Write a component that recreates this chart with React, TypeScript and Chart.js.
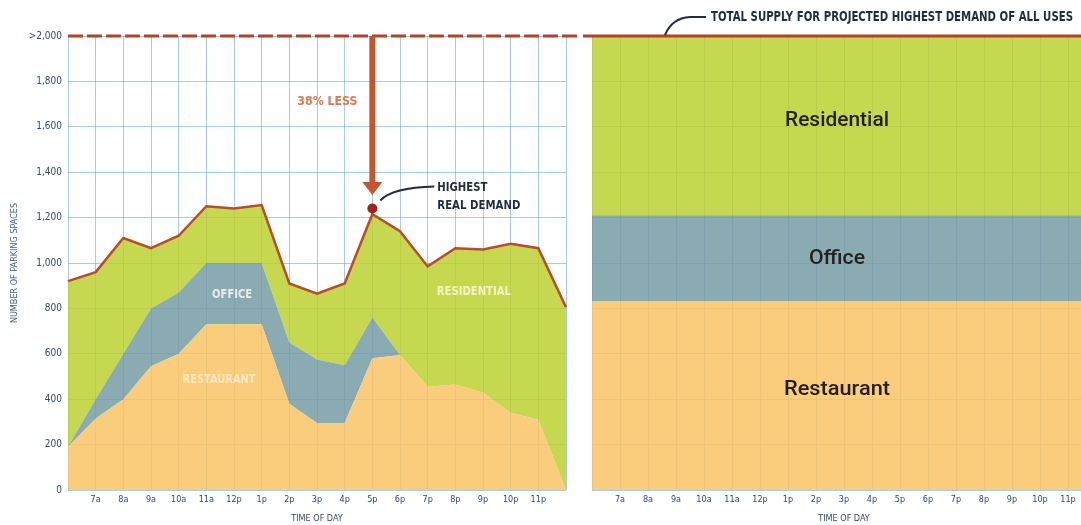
import React, { useEffect, useRef } from "react";
import { Chart, registerables } from "chart.js";

Chart.register(...registerables);

// ---------- data ----------
const timeLabels = ["", "7a", "8a", "9a", "10a", "11a", "12p", "1p", "2p", "3p", "4p", "5p", "6p", "7p", "8p", "9p", "10p", "11p", ""];
const restaurantDemand = [190, 315, 400, 545, 600, 730, 730, 730, 380, 295, 295, 580, 595, 455, 465, 430, 340, 310, 0];
const officeDemand = [0, 85, 200, 255, 270, 270, 270, 270, 270, 280, 255, 180, 0, 0, 0, 0, 0, 0, 0];
const residentialDemand = [730, 560, 510, 265, 250, 250, 240, 255, 260, 290, 360, 455, 545, 530, 600, 630, 745, 755, 805];

const supplyRestaurant = 830;
const supplyOffice = 380;
const supplyResidential = 790;

const yTickLabels = ["0", "200", "400", "600", "800", "1,000", "1,200", "1,400", "1,600", "1,800", ">2,000"];
const yMax = 2000;
const yStep = 200;

const peakIndex = 11;
const peakDemand = 1240;
const arrowTipValue = 1300;

// ---------- styles ----------
const COND = "'DejaVu Sans Condensed', 'DejaVu Sans', sans-serif";
const gridColor = "rgba(100,160,205,0.55)";
const tickColor = "#2f4a66";
const fillRestaurant = "rgba(248,197,102,0.86)";
const fillOffice = "rgba(120,157,167,0.86)";
const fillResidential = "rgba(189,208,51,0.86)";
const demandLine = "#b84d2c";
const supplyLine = "#b2432a";
const arrowColor = "#c4552e";
const dotColor = "#a51f1d";
const noteColor = "#1f2d3d";

function fitText(ctx: CanvasRenderingContext2D, text: string, x: number, y: number, width: number, font: string, color: string, align: CanvasTextAlign = "center") {
  ctx.save();
  ctx.font = font;
  const w = ctx.measureText(text).width || 1;
  const sx = width / w;
  ctx.translate(x, y);
  ctx.scale(sx, 1);
  ctx.textAlign = align;
  ctx.textBaseline = "middle";
  ctx.fillStyle = color;
  ctx.fillText(text, 0, 0);
  ctx.restore();
}

const leftPlugin = {
  id: "leftAnnotations",
  afterDraw(chart: any) {
    const ctx: CanvasRenderingContext2D = chart.ctx;
    const xs = chart.scales.x;
    const ys = chart.scales.y;
    const ca = chart.chartArea;
    const yTop = ys.getPixelForValue(yMax);

    // area labels
    fitText(ctx, "OFFICE", xs.getPixelForValue(5.93), ys.getPixelForValue(860), 40, `bold 12px ${COND}`, "#e6edf0");
    fitText(ctx, "RESIDENTIAL", xs.getPixelForValue(14.67), ys.getPixelForValue(872), 74, `bold 12px ${COND}`, "#f4f3c8");
    fitText(ctx, "RESTAURANT", xs.getPixelForValue(5.46), ys.getPixelForValue(485), 73, `bold 12px ${COND}`, "rgba(255,240,215,0.8)");

    // dashed supply line
    ctx.save();
    ctx.strokeStyle = supplyLine;
    ctx.lineWidth = 3;
    ctx.setLineDash([15, 4]);
    ctx.beginPath();
    ctx.moveTo(ca.left, yTop);
    ctx.lineTo(chart.width - 3, yTop);
    ctx.stroke();
    ctx.restore();

    // arrow
    const px = xs.getPixelForValue(peakIndex);
    const tipY = ys.getPixelForValue(arrowTipValue);
    ctx.save();
    ctx.strokeStyle = arrowColor;
    ctx.fillStyle = arrowColor;
    ctx.lineWidth = 6;
    ctx.beginPath();
    ctx.moveTo(px, yTop);
    ctx.lineTo(px, tipY - 12);
    ctx.stroke();
    ctx.beginPath();
    ctx.moveTo(px - 10, tipY - 13);
    ctx.lineTo(px + 10, tipY - 13);
    ctx.lineTo(px, tipY);
    ctx.closePath();
    ctx.fill();
    ctx.restore();

    fitText(ctx, "38% LESS", px - 75, ys.getPixelForValue(1710), 60, `bold 13px ${COND}`, "#d97a4f", "left");

    // dot
    const dy = ys.getPixelForValue(peakDemand);
    ctx.save();
    ctx.fillStyle = dotColor;
    ctx.beginPath();
    ctx.arc(px, dy, 5, 0, Math.PI * 2);
    ctx.fill();
    // leader curve
    ctx.strokeStyle = noteColor;
    ctx.lineWidth = 2;
    ctx.beginPath();
    ctx.moveTo(px + 8, dy - 8);
    ctx.quadraticCurveTo(px + 20, dy - 21, px + 62, dy - 22);
    ctx.stroke();
    ctx.restore();
    fitText(ctx, "HIGHEST", px + 65, dy - 21, 50, `bold 13px ${COND}`, noteColor, "left");
    fitText(ctx, "REAL DEMAND", px + 65, dy - 3, 83, `bold 13px ${COND}`, noteColor, "left");
  },
};

const rightPlugin = {
  id: "rightAnnotations",
  afterDraw(chart: any) {
    const ctx: CanvasRenderingContext2D = chart.ctx;
    const ys = chart.scales.y;
    const ca = chart.chartArea;
    const yTop = ys.getPixelForValue(yMax);

    ctx.save();
    ctx.strokeStyle = supplyLine;
    ctx.lineWidth = 3;
    ctx.beginPath();
    ctx.moveTo(ca.left - 9, yTop);
    ctx.lineTo(chart.width, yTop);
    ctx.stroke();

    ctx.strokeStyle = noteColor;
    ctx.lineWidth = 2;
    ctx.beginPath();
    ctx.moveTo(ca.left + 73, yTop - 1);
    ctx.quadraticCurveTo(ca.left + 80, yTop - 18, ca.left + 98, yTop - 19);
    ctx.lineTo(ca.left + 114, yTop - 19);
    ctx.stroke();
    ctx.restore();

    fitText(ctx, "TOTAL SUPPLY FOR PROJECTED HIGHEST DEMAND OF ALL USES", ca.left + 119, yTop - 18.5, 362, `bold 14px ${COND}`, noteColor, "left");

    const cx = ca.left + 245;
    const f = "500 21px Roboto, 'Liberation Sans', sans-serif";
    fitText(ctx, "Residential", cx, ys.getPixelForValue(supplyRestaurant + supplyOffice + supplyResidential * 0.53), 104, f, "#231f20");
    fitText(ctx, "Office", cx, ys.getPixelForValue(supplyRestaurant + supplyOffice / 2), 56, f, "#231f20");
    fitText(ctx, "Restaurant", cx, ys.getPixelForValue(supplyRestaurant * 0.53), 106, f, "#231f20");
  },
};

function lineDs(label: string, data: number[], fill: string | boolean, bg: string, border = "transparent", bw = 0) {
  return {
    label,
    data,
    backgroundColor: bg,
    borderColor: border,
    borderWidth: bw,
    fill,
    pointRadius: 0,
    tension: 0,
  };
}

const xAxis = (): any => ({
  grid: { color: gridColor, drawTicks: false, lineWidth: 1 },
  border: { display: false },
  ticks: { autoSkip: false, maxRotation: 0, minRotation: 0, padding: 4, color: tickColor, font: { family: COND, size: 9 } },
  title: { display: true, text: "TIME OF DAY", color: tickColor, font: { family: COND, size: 9 }, padding: { top: 0, bottom: 1 } },
  afterFit: (s: any) => {
    s.height = 35;
  },
});

export default function App() {
  const leftRef = useRef<HTMLCanvasElement>(null);
  const rightRef = useRef<HTMLCanvasElement>(null);

  useEffect(() => {
    const left = new Chart(leftRef.current as HTMLCanvasElement, {
      type: "line",
      data: {
        labels: timeLabels,
        datasets: [
          lineDs("Restaurant", restaurantDemand, "origin", fillRestaurant),
          lineDs("Office", officeDemand, "-1", fillOffice),
          lineDs("Residential", residentialDemand, "-1", fillResidential, demandLine, 2.5),
        ] as any,
      },
      options: {
        responsive: false,
        animation: false,
        layout: { padding: { left: 0, top: 36, right: 14, bottom: 0 } },
        plugins: { legend: { display: false }, tooltip: { enabled: false } },
        scales: {
          x: xAxis(),
          y: {
            stacked: true,
            min: 0,
            max: yMax,
            grid: { color: gridColor, drawTicks: false, lineWidth: 1 },
            border: { display: false },
            ticks: {
              stepSize: yStep,
              padding: 6,
              color: tickColor,
              font: { family: COND, size: 10 },
              callback: (_v: any, i: number) => yTickLabels[i],
            },
            title: {
              display: true,
              text: "NUMBER OF PARKING SPACES",
              color: "#3b5f7a",
              font: { family: COND, size: 9 },
              padding: { top: 9, bottom: 0 },
            },
            afterFit: (s: any) => {
              s.width = 68;
            },
          } as any,
        },
      },
      plugins: [leftPlugin],
    });

    const right = new Chart(rightRef.current as HTMLCanvasElement, {
      type: "line",
      data: {
        labels: timeLabels,
        datasets: [
          lineDs("Restaurant", timeLabels.map(() => supplyRestaurant), "origin", fillRestaurant),
          lineDs("Office", timeLabels.map(() => supplyOffice), "-1", fillOffice),
          lineDs("Residential", timeLabels.map(() => supplyResidential), "-1", fillResidential),
        ] as any,
      },
      options: {
        responsive: false,
        animation: false,
        layout: { padding: { left: 0, top: 36, right: 14, bottom: 0 } },
        plugins: { legend: { display: false }, tooltip: { enabled: false } },
        scales: {
          x: xAxis(),
          y: {
            stacked: true,
            min: 0,
            max: yMax,
            grid: { color: gridColor, drawTicks: false, lineWidth: 1 },
            border: { display: false },
            ticks: { stepSize: yStep, display: false },
            afterFit: (s: any) => {
              s.width = 12;
            },
          } as any,
        },
      },
      plugins: [rightPlugin],
    });

    return () => {
      left.destroy();
      right.destroy();
    };
  }, []);

  return (
    <div style={{ position: "fixed", left: 0, top: 0, width: 1081, height: 525, overflow: "hidden", background: "#ffffff" }}>
      <canvas ref={leftRef} width={580} height={525} style={{ position: "absolute", left: 0, top: 0 }} />
      <canvas ref={rightRef} width={530} height={525} style={{ position: "absolute", left: 580, top: 0 }} />
    </div>
  );
}
